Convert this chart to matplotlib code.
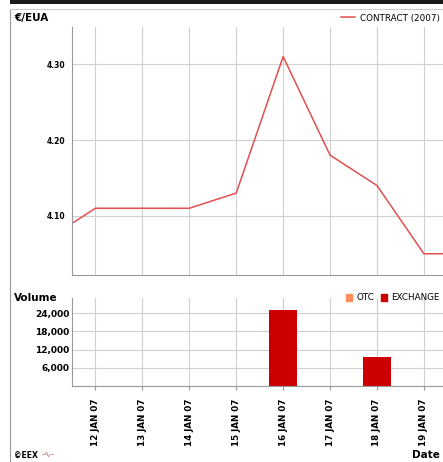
import numpy as np
import matplotlib.pyplot as plt
from matplotlib.lines import Line2D
from matplotlib.patches import Patch

# price data (day of January 2007)
days = [11, 12, 13, 14, 15, 16, 17, 18, 19, 20]
price = [4.07, 4.11, 4.11, 4.11, 4.13, 4.31, 4.18, 4.14, 4.05, 4.05]

# volume data
vol_days = [12, 13, 14, 15, 16, 17, 18, 19]
otc = [0, 0, 0, 0, 0, 0, 0, 0]
exchange = [0, 0, 0, 0, 25000, 0, 9700, 0]

tick_labels = ['12 JAN 07', '13 JAN 07', '14 JAN 07', '15 JAN 07',
               '16 JAN 07', '17 JAN 07', '18 JAN 07', '19 JAN 07']
price_ticks = [4.10, 4.20, 4.30]
vol_ticks = [6000, 12000, 18000, 24000]

W, H = 443, 462
fig = plt.figure(figsize=(W / 100, H / 100), dpi=100)
fig.patch.set_facecolor('white')

def box(x0, y0, x1, y1):
    # pixel coords (top-left origin) -> figure fraction
    return [x0 / W, 1 - y1 / H, (x1 - x0) / W, (y1 - y0) / H]

# top black bar and frame
fig.add_artist(plt.Rectangle((10 / W, 1 - 4 / H), 1, 4 / H, transform=fig.transFigure,
                             color='#1a1a1a', lw=0))
fig.add_artist(Line2D([10 / W, 10 / W], [0, 1 - 9 / H], transform=fig.transFigure,
                      color='#999999', lw=0.8))
fig.add_artist(Line2D([10 / W, 1], [1 - 9 / H, 1 - 9 / H], transform=fig.transFigure,
                      color='#cccccc', lw=0.8))

grid_col = '#d0d0d0'
axis_col = '#999999'
line_col = '#e05050'

ax1 = fig.add_axes(box(72, 27, 445, 275))
ax1.plot(days, price, color=line_col, lw=1.1, label='CONTRACT (2007)')
ax1.set_xlim(11.5, 19.45)
ax1.set_ylim(4.022, 4.349)
ax1.set_xticks(vol_days)
ax1.set_xticklabels([])
ax1.set_yticks(price_ticks)
ax1.set_yticklabels(['%.2f' % v for v in price_ticks], fontsize=5.5, fontweight='bold')
ax1.tick_params(length=0, pad=5)
ax1.grid(True, color=grid_col, lw=0.8)
for s in ['top', 'right']:
    ax1.spines[s].set_visible(False)
for s in ['left', 'bottom']:
    ax1.spines[s].set_color(axis_col)
fig.text(14 / W, 1 - 18 / H, '€/EUA', fontsize=7.5, fontweight='bold', va='center')
fig.legend(handles=[Line2D([0], [0], color=line_col, lw=1.1)], labels=['CONTRACT (2007)'],
           loc='center right', bbox_to_anchor=(440 / W, 1 - 18 / H), frameon=False,
           fontsize=6.3, handlelength=1.6, handletextpad=0.6, borderaxespad=0, borderpad=0)

ax2 = fig.add_axes(box(72, 298, 445, 386))
ax2.bar(vol_days, otc, width=0.6, color='#ff8c5a')
ax2.bar(vol_days, exchange, width=0.6, color='#cc0000')
ax2.set_xlim(11.5, 19.45)
ax2.set_ylim(0, 29000)
ax2.set_xticks(vol_days)
ax2.set_xticklabels(tick_labels, rotation=90, fontsize=6.3, fontweight='bold')
ax2.set_yticks(vol_ticks)
ax2.set_yticklabels(['{:,}'.format(v) for v in vol_ticks], fontsize=6.5, fontweight='bold')
ax2.tick_params(axis='y', length=0, pad=2)
ax2.tick_params(axis='x', length=3, color=axis_col, pad=6)
ax2.grid(True, color=grid_col, lw=0.8)
ax2.set_axisbelow(True)
for s in ['top', 'right']:
    ax2.spines[s].set_visible(False)
for s in ['left', 'bottom']:
    ax2.spines[s].set_color(axis_col)
fig.text(14 / W, 1 - 298 / H, 'Volume', fontsize=7.5, fontweight='bold', va='center')
fig.legend(handles=[Patch(color='#ff8c5a'), Patch(color='#cc0000')], labels=['OTC', 'EXCHANGE'],
           loc='center right', bbox_to_anchor=(440 / W, 1 - 298 / H), frameon=False, ncol=2,
           fontsize=6.3, handlelength=0.7, handleheight=0.7, handletextpad=0.5,
           columnspacing=0.8, borderaxespad=0, borderpad=0)

fig.text(440 / W, 1 - 455 / H, 'Date', fontsize=7.5, fontweight='bold', ha='right', va='center')
fig.text(14 / W, 1 - 455 / H, '©EEX', fontsize=5.5, fontweight='bold', va='center')
fig.text(42 / W, 1 - 455 / H, '-\u223f-', fontsize=6, color=line_col, va='center')

fig.savefig('out.png', dpi=100)
